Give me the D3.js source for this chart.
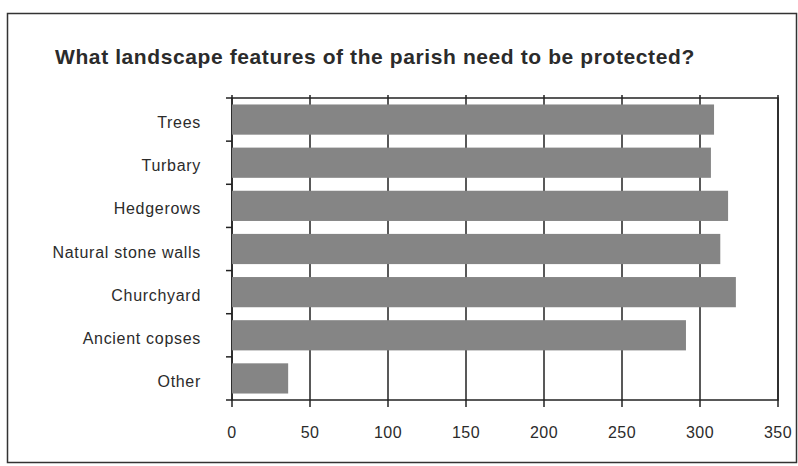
<!DOCTYPE html>
<html>
<head>
<meta charset="utf-8">
<script src="https://cdn.jsdelivr.net/npm/d3@7"></script>
<style>
  body { margin: 0; background: #fff; }
  text { font-family: "Liberation Sans", Arial, sans-serif; fill: #2b2b2b; }
</style>
</head>
<body>
<div id="chart"></div>
<script>
const categories = ["Trees", "Turbary", "Hedgerows", "Natural stone walls", "Churchyard", "Ancient copses", "Other"];
const values = [309, 307, 318, 313, 323, 291, 36];
const xTicks = [0, 50, 100, 150, 200, 250, 300, 350];
const title = "What landscape features of the parish need to be protected?";

const width = 798,
    height = 466,
    margin = { top: 98, right: 20, bottom: 66, left: 232 },
    innerWidth = 778 - margin.left,
    innerHeight = height - margin.top - margin.bottom;

const svg = d3.select('#chart').append('svg')
    .attr('width', width)
    .attr('height', height);

// scanned page frame
svg.append('rect')
    .attr('x', 7.5).attr('y', 13.5)
    .attr('width', 789).attr('height', 449)
    .attr('fill', 'none')
    .attr('stroke', '#333')
    .attr('stroke-width', 1.5);

svg.append('text')
    .attr('x', 55)
    .attr('y', 64)
    .attr('font-size', 21)
    .attr('font-weight', 'bold')
    .attr('letter-spacing', 0.6)
    .text(title);

const g = svg.append('g')
    .attr('transform', 'translate(' + margin.left + ',' + margin.top + ')');

const x = d3.scaleLinear()
    .domain([0, 350])
    .range([0, innerWidth]);

const y = d3.scaleBand()
    .domain(categories)
    .range([0, innerHeight])
    .paddingInner(0.3)
    .paddingOuter(0.15);

// vertical grid lines
g.append('g')
    .selectAll('line')
    .data(xTicks)
    .enter()
    .append('line')
    .attr('x1', d => x(d))
    .attr('x2', d => x(d))
    .attr('y1', -3)
    .attr('y2', innerHeight + 7)
    .attr('stroke', '#222')
    .attr('stroke-width', 1.5);

// plot frame
g.append('rect')
    .attr('width', innerWidth)
    .attr('height', innerHeight)
    .attr('fill', 'none')
    .attr('stroke', '#222')
    .attr('stroke-width', 1.5);

// bars
g.append('g')
    .selectAll('rect')
    .data(categories)
    .enter()
    .append('rect')
    .attr('x', 0)
    .attr('y', d => y(d))
    .attr('width', (d, i) => x(values[i]))
    .attr('height', y.bandwidth())
    .attr('fill', '#858585');

// left ticks between categories
const bounds = d3.range(categories.length + 1).map(i => i * innerHeight / categories.length);
g.append('g')
    .selectAll('line')
    .data(bounds)
    .enter()
    .append('line')
    .attr('x1', -6)
    .attr('x2', 0)
    .attr('y1', d => d)
    .attr('y2', d => d)
    .attr('stroke', '#222')
    .attr('stroke-width', 1.5);

// category labels
g.append('g')
    .selectAll('text')
    .data(categories)
    .enter()
    .append('text')
    .attr('x', -31)
    .attr('y', d => y(d) + y.bandwidth() / 2 + 3)
    .attr('dy', '0.35em')
    .attr('text-anchor', 'end')
    .attr('font-size', 16)
    .attr('letter-spacing', 0.7)
    .text(d => d);

// x tick labels
g.append('g')
    .selectAll('text')
    .data(xTicks)
    .enter()
    .append('text')
    .attr('x', d => x(d))
    .attr('y', innerHeight + 38)
    .attr('text-anchor', 'middle')
    .attr('font-size', 16)
    .attr('letter-spacing', 0.4)
    .text(d => d);
</script>
</body>
</html>
